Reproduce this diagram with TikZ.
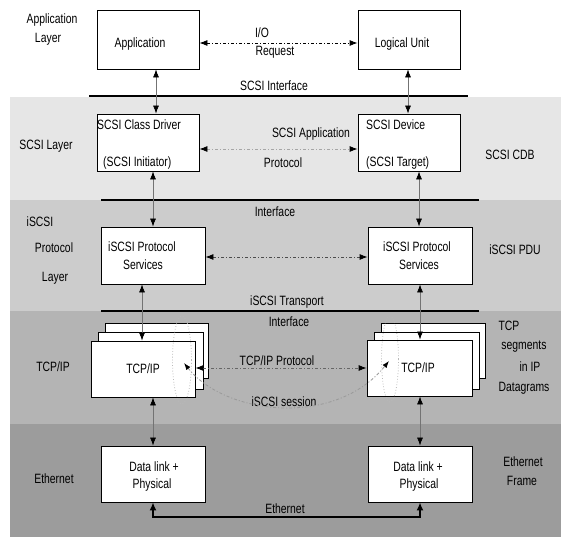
\documentclass[tikz,border=0pt]{standalone}
\usepackage{fontspec}
\setmainfont[FakeStretch=0.77]{Liberation Sans}
\usetikzlibrary{arrows.meta,calc,shapes.geometric}
\definecolor{bandA}{HTML}{E6E6E6}
\definecolor{bandB}{HTML}{CCCCCC}
\definecolor{bandC}{HTML}{B4B4B4}
\definecolor{bandD}{HTML}{9C9C9C}
\begin{document}
\begin{tikzpicture}[x=1pt,y=-1pt,
  every node/.style={inner sep=0pt},
  lbl/.style={font=\fontsize{13.5}{15}\selectfont},
  box/.style={draw=black, fill=white, line width=0.8pt, inner sep=0pt},
  bus/.style={line width=2.6pt},
  vconn/.style={draw=black!55, line width=0.7pt, {Latex[length=8pt,width=6pt,color=black]}-{Latex[length=8pt,width=6pt,color=black]}},
  dashdot/.style={line width=0.8pt, dash pattern=on 3pt off 2pt on 1pt off 2pt, {Latex[length=8pt,width=6pt,color=black]}-{Latex[length=8pt,width=6pt,color=black]}},
  sess/.style={draw=gray!80, line width=0.8pt, dash pattern=on 3pt off 2pt on 1pt off 2pt, {Latex[length=7pt,width=5pt,color=black]}-{Latex[length=7pt,width=5pt,color=black]}},
  ell/.style={draw=gray!55, dotted, line width=0.8pt, ellipse, inner sep=0pt}
]
\useasboundingbox (0,0) rectangle (561,537);
% bands
\fill[bandA] (10,97) rectangle (561,200);
\fill[bandB] (10,200) rectangle (561,311);
\fill[bandC] (10,311) rectangle (561,424);
\fill[bandD] (10,424) rectangle (561,537);

% boxes
\node[box, minimum width=102pt, minimum height=59pt] (app) at (148,39.5) {};
\node[box, minimum width=102pt, minimum height=59pt] (lu) at (409,39.5) {};
\node[box, minimum width=102pt, minimum height=57pt] (drv) at (148,142.5) {};
\node[box, minimum width=102pt, minimum height=57pt] (dev) at (409,142.5) {};
\node[box, minimum width=104pt, minimum height=57pt] (isl) at (153,255.5) {};
\node[box, minimum width=104pt, minimum height=57pt] (isr) at (420,255.5) {};
% TCP stacks left
\node[box, minimum width=103pt, minimum height=55pt] (tlb) at (156.5,350.5) {};
\node[box, minimum width=105pt, minimum height=57pt] (tlm) at (150.5,360.5) {};
\node[box, minimum width=104pt, minimum height=56pt] (tlf) at (143,369) {};
% TCP stacks right
\node[box, minimum width=104pt, minimum height=55pt] (trb) at (433,350.5) {};
\node[box, minimum width=105pt, minimum height=57pt] (trm) at (426.5,360.5) {};
\node[box, minimum width=105pt, minimum height=56pt] (trf) at (419.5,368) {};
\node[box, minimum width=104pt, minimum height=56pt] (dll) at (153,474) {};
\node[box, minimum width=104pt, minimum height=56pt] (dlr) at (420,474) {};

% texts in boxes
\node[lbl] (tapp) at (140,44) {Application};
\node[lbl] (tlu) at (402,44) {Logical Unit};
\node[lbl, anchor=west] (tdrv1) at (97,125) {SCSI Class Driver};
\node[lbl, anchor=west] (tdrv2) at (103,163) {(SCSI Initiator)};
\node[lbl, anchor=west] (tdev1) at (366,125) {SCSI Device};
\node[lbl, anchor=west] (tdev2) at (366,163) {(SCSI Target)};
\node[lbl] (tisl1) at (142,247) {iSCSI Protocol};
\node[lbl] (tisl2) at (143,265) {Services};
\node[lbl] (tisr1) at (417,247) {iSCSI Protocol};
\node[lbl] (tisr2) at (419,265) {Services};
\node[lbl] (ttl) at (143,369) {TCP/IP};
\node[lbl] (ttr) at (418,368) {TCP/IP};
\node[lbl] (tdl1) at (154,467) {Data link +};
\node[lbl] (tdl2) at (152,485) {Physical};
\node[lbl] (tdr1) at (418,467) {Data link +};
\node[lbl] (tdr2) at (419,485) {Physical};

% left layer labels
\node[lbl] (la1) at (52,20) {Application};
\node[lbl] (la2) at (48,39) {Layer};
\node[lbl] (lsc) at (46,146) {SCSI Layer};
\node[lbl] (li1) at (40,222) {iSCSI};
\node[lbl] (li2) at (54,248) {Protocol};
\node[lbl] (li3) at (55,278) {Layer};
\node[lbl] (ltcp) at (53,367) {TCP/IP};
\node[lbl] (leth) at (54,479) {Ethernet};

% right labels
\node[lbl] (rcdb) at (510,155) {SCSI CDB};
\node[lbl] (rpdu) at (515,250) {iSCSI PDU};
\node[lbl] (rt1) at (509,326) {TCP};
\node[lbl] (rt2) at (524,347) {segments};
\node[lbl] (rt3) at (530,367) {in IP};
\node[lbl] (rt4) at (524,388) {Datagrams};
\node[lbl] (re1) at (523,462) {Ethernet};
\node[lbl] (re2) at (522,481) {Frame};

% middle labels
\node[lbl] (mio) at (262,33) {I/O};
\node[lbl] (mreq) at (275,52) {Request};
\node[lbl] (msi) at (274,86) {SCSI Interface};
\node[lbl] (msa1) at (311,134) {SCSI Application};
\node[lbl] (msa2) at (283,163) {Protocol};
\node[lbl] (mif) at (275,212) {Interface};
\node[lbl] (mit) at (287,302) {iSCSI Transport};
\node[lbl] (mif2) at (289,322) {Interface};
\node[lbl] (mtp) at (277,361) {TCP/IP Protocol};
\node[lbl] (mss) at (284,402) {iSCSI session};
\node[lbl] (meth) at (285,509) {Ethernet};

% interface lines
\coordinate (s1a) at (89,96); \coordinate (s1b) at (468,96);
\coordinate (s2a) at (101,200); \coordinate (s2b) at (479,200);
\coordinate (s3a) at (101,311); \coordinate (s3b) at (479,311);
\draw[bus] (s1a) -- (s1b);
\draw[bus] (s2a) -- (s2b);
\draw[bus] (s3a) -- (s3b);

% vertical connectors
\coordinate (xa) at (156,0); \coordinate (xb) at (153,0); \coordinate (xc) at (142,0); \coordinate (xd) at (153,0);
\coordinate (ya) at (408,0); \coordinate (yb) at (419,0); \coordinate (yc) at (420,0); \coordinate (yd) at (420,0);
\draw[vconn] (xa |- app.south) -- (xa |- drv.north);
\draw[vconn] (xb |- drv.south) -- (xb |- isl.north);
\draw[vconn] (xc |- isl.south) -- (xc |- tlf.north);
\draw[vconn] (xd |- tlf.south) -- (xd |- dll.north);
\draw[vconn] (ya |- lu.south) -- (ya |- dev.north);
\draw[vconn] (yb |- dev.south) -- (yb |- isr.north);
\draw[vconn] (yc |- isr.south) -- (yc |- trf.north);
\draw[vconn] (yd |- trf.south) -- (yd |- dlr.north);

% ethernet bus
\coordinate (eb) at (0,517);
\draw[bus, {Latex[length=8pt,width=7pt]}-{Latex[length=8pt,width=7pt]}] (xd |- dll.south) -- (xd |- eb) -- (yd |- eb) -- (yd |- dlr.south);

% horizontal protocol arrows
\draw[dashdot, draw=black] (app.east |- 0,43) -- (lu.west |- 0,43);
\draw[dashdot, draw=gray!70] (drv.east |- 0,149) -- (dev.west |- 0,149);
\draw[dashdot, draw=black!70] (isl.east |- 0,257) -- (isr.west |- 0,257);
\draw[dashdot, draw=black!60] (tlf.east |- 0,368) -- (trf.west |- 0,368);

% ellipses
\node[ell, minimum width=19pt, minimum height=88pt] (el) at (182,360) {};
\node[ell, minimum width=17pt, minimum height=86pt] (er) at (390,359) {};

% iSCSI session
\coordinate (sl) at (184,363);
\coordinate (sr) at (389,361);
\draw[sess] (sl) .. controls (225,415) and (335,428) .. (sr);
\end{tikzpicture}
\end{document}
